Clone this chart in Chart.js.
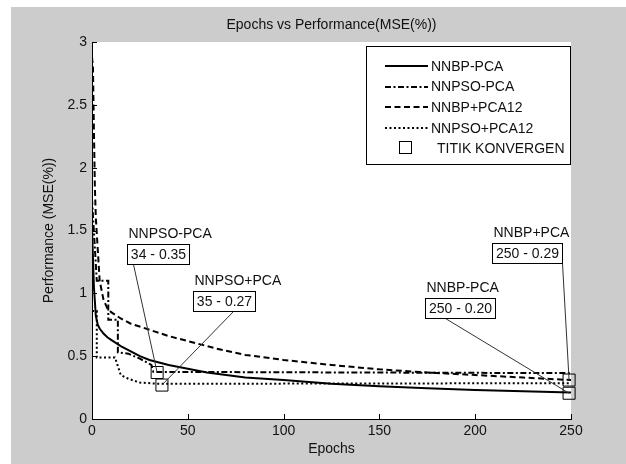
<!DOCTYPE html>
<html>
<head>
<meta charset="utf-8">
<title>Epochs vs Performance(MSE(%))</title>
<script src="https://cdn.jsdelivr.net/npm/chart.js@4.4.1/dist/chart.umd.min.js"></script>
<style>
  html, body { margin: 0; padding: 0; background: #fff; }
  canvas { display: block; }
</style>
</head>
<body>
<canvas id="chart" width="626" height="464"></canvas>
<script>
// DATA

// NNBP-PCA - solid
const nnbpPcaEpochs = [0, 1, 2, 3, 4, 6, 8, 10, 15, 20, 25, 30, 40, 50, 60, 70, 80, 100, 125, 150, 175, 200, 225, 250];
const nnbpPcaMse = [1.52, 1.05, 0.82, 0.75, 0.72, 0.68, 0.65, 0.63, 0.58, 0.54, 0.5, 0.47, 0.43, 0.4, 0.37, 0.35, 0.33, 0.31, 0.28, 0.26, 0.245, 0.23, 0.22, 0.21];

// NNPSO-PCA - dash dot (steps)
const nnpsoPcaEpochs = [0, 2.5, 8.5, 8.5, 13.5, 13.5, 19, 25, 31, 32, 250];
const nnpsoPcaMse = [1.75, 1.1, 1.1, 0.79, 0.79, 0.53, 0.52, 0.48, 0.43, 0.375, 0.365];

// NNBP+PCA12 - dashed
const nnbpPca12Epochs = [0, 0.5, 1, 1.5, 2, 3, 4, 6, 8, 10, 15, 20, 30, 40, 50, 65, 80, 100, 125, 150, 175, 200, 225, 250];
const nnbpPca12Mse = [2.88, 2.8, 2.3, 1.85, 1.6, 1.35, 1.1, 0.95, 0.88, 0.85, 0.8, 0.76, 0.71, 0.66, 0.62, 0.56, 0.51, 0.47, 0.43, 0.395, 0.37, 0.35, 0.33, 0.31];

// NNPSO+PCA12 - dotted (steps)
const nnpsoPca12Epochs = [0, 2.5, 2.5, 12, 15, 19, 25, 35, 250];
const nnpsoPca12Mse = [0.86, 0.86, 0.49, 0.49, 0.35, 0.32, 0.29, 0.28, 0.285];

// titik konvergen
const konvergenEpochs = [34, 36.5, 249, 249];
const konvergenMse = [0.37, 0.27, 0.205, 0.31];

const xTicks = [0, 50, 100, 150, 200, 250];
const yTicks = [0, 0.5, 1, 1.5, 2, 2.5, 3];

// labels near the convergence points
const annotTitles = ['NNPSO-PCA', 'NNPSO+PCA', 'NNBP-PCA', 'NNBP+PCA'];
const annotTexts = ['34 - 0.35', '35 - 0.27', '250 - 0.20', '250 - 0.29'];

// box placement for each label (axis units) + where the leader leaves the box
const annotLayout = [
  { epoch: 18.1, mse: 1.39, leaderDx: 6 },
  { epoch: 52.9, mse: 1.018, leaderDx: 40 },
  { epoch: 173.8, mse: 0.96, leaderDx: 20 },
  { epoch: 208.9, mse: 1.4, leaderDx: 70 }
];

const FONT = 'Liberation Sans, Arial, Helvetica, sans-serif';
const FONT_SIZE = 14;
const toPoints = (xs, ys) => xs.map((x, i) => ({ x, y: ys[i] }));

// PLUGINS

// matlab-like figure background
const backgroundPlugin = {
  id: 'figBackground',
  beforeDraw: (chart) => {
    const { ctx, chartArea, width, height } = chart;
    ctx.save();
    ctx.fillStyle = '#ffffff';
    ctx.fillRect(0, 0, width, height);
    ctx.fillStyle = '#cccccc';
    ctx.fillRect(11, 7, width - 11, height - 7);
    ctx.fillStyle = '#ffffff';
    ctx.fillRect(chartArea.left, chartArea.top, chartArea.right - chartArea.left, chartArea.bottom - chartArea.top);
    ctx.restore();
  }
};

// inward tick marks + title
const axesPlugin = {
  id: 'matlabAxes',
  afterDraw: (chart) => {
    const { ctx, chartArea, scales } = chart;
    const { x, y } = scales;
    ctx.save();
    ctx.strokeStyle = '#000';
    ctx.lineWidth = 1;
    ctx.beginPath();
    xTicks.forEach((t) => {
      const px = Math.round(x.getPixelForValue(t)) + 0.5;
      ctx.moveTo(px, chartArea.bottom);
      ctx.lineTo(px, chartArea.bottom - 5);
    });
    yTicks.forEach((t) => {
      const py = Math.round(y.getPixelForValue(t)) + 0.5;
      ctx.moveTo(chartArea.left, py);
      ctx.lineTo(chartArea.left + 5, py);
    });
    ctx.stroke();

    ctx.fillStyle = '#111';
    ctx.font = FONT_SIZE + 'px ' + FONT;
    ctx.textAlign = 'center';
    ctx.textBaseline = 'middle';
    ctx.fillText('Epochs vs Performance(MSE(%))', (chartArea.left + chartArea.right) / 2, 25);
    ctx.restore();
  }
};

// leader lines and text boxes
const annotPlugin = {
  id: 'konvergenLabels',
  afterDraw: (chart) => {
    const { ctx, scales } = chart;
    const { x, y } = scales;
    ctx.save();
    ctx.font = FONT_SIZE + 'px ' + FONT;
    annotLayout.forEach((item, i) => {
      const left = Math.round(x.getPixelForValue(item.epoch)) + 0.5;
      const top = Math.round(y.getPixelForValue(item.mse)) + 0.5;
      const w = Math.round(ctx.measureText(annotTexts[i]).width + 7);
      const h = 20;

      // leader
      ctx.strokeStyle = '#333';
      ctx.lineWidth = 1;
      ctx.beginPath();
      ctx.moveTo(left + item.leaderDx, top + h);
      ctx.lineTo(x.getPixelForValue(konvergenEpochs[i]), y.getPixelForValue(konvergenMse[i]));
      ctx.stroke();

      // box
      ctx.fillStyle = '#fff';
      ctx.fillRect(left, top, w, h);
      ctx.strokeStyle = '#000';
      ctx.strokeRect(left, top, w, h);

      ctx.fillStyle = '#111';
      ctx.textAlign = 'center';
      ctx.textBaseline = 'middle';
      ctx.fillText(annotTexts[i], left + w / 2, top + h / 2 + 1);

      ctx.textAlign = 'left';
      ctx.fillText(annotTitles[i], left + 1, top - 10);
    });
    ctx.restore();
  }
};

// legend box inside the axes
const legendPlugin = {
  id: 'boxLegend',
  afterDraw: (chart) => {
    const { ctx } = chart;
    const datasets = chart.data.datasets;
    ctx.save();
    ctx.fillStyle = '#fff';
    ctx.fillRect(366.5, 46.5, 204, 118);
    ctx.strokeStyle = '#000';
    ctx.lineWidth = 1;
    ctx.strokeRect(366.5, 46.5, 204, 118);

    ctx.font = FONT_SIZE + 'px ' + FONT;
    ctx.textBaseline = 'middle';
    ctx.textAlign = 'left';
    datasets.forEach((ds, i) => {
      const rowY = 66 + i * 20.6;
      if (ds.showLine === false) {
        ctx.setLineDash([]);
        ctx.lineWidth = 1;
        ctx.strokeStyle = '#000';
        ctx.strokeRect(399.5, Math.round(rowY) - 6.5, 12, 12);
        ctx.fillStyle = '#111';
        ctx.fillText(ds.label, 437, rowY + 1);
      } else {
        ctx.setLineDash(ds.borderDash || []);
        ctx.lineWidth = ds.borderWidth;
        ctx.strokeStyle = ds.borderColor;
        ctx.beginPath();
        ctx.moveTo(385, Math.round(rowY));
        ctx.lineTo(428, Math.round(rowY));
        ctx.stroke();
        ctx.fillStyle = '#111';
        ctx.fillText(ds.label, 431, rowY + 1);
      }
    });
    ctx.restore();
  }
};

// CHART

const lineDataset = (label, xs, ys, dash) => ({
  label,
  data: toPoints(xs, ys),
  borderColor: '#000',
  borderWidth: 2,
  borderDash: dash,
  pointRadius: 0,
  tension: 0,
  fill: false
});

const datasets = [
  lineDataset('NNBP-PCA', nnbpPcaEpochs, nnbpPcaMse, []),
  lineDataset('NNPSO-PCA', nnpsoPcaEpochs, nnpsoPcaMse, [6, 2.5, 2, 2.5]),
  lineDataset('NNBP+PCA12', nnbpPca12Epochs, nnbpPca12Mse, [6, 3.5]),
  lineDataset('NNPSO+PCA12', nnpsoPca12Epochs, nnpsoPca12Mse, [2, 2.5]),
  {
    type: 'scatter',
    label: 'TITIK KONVERGEN',
    data: toPoints(konvergenEpochs, konvergenMse),
    showLine: false,
    pointStyle: 'rect',
    pointRadius: 8.5,
    pointBorderWidth: 1,
    pointBorderColor: '#000',
    pointBackgroundColor: 'rgba(0,0,0,0)',
    clip: false
  }
];

const tickFont = { family: FONT, size: FONT_SIZE };

new Chart(document.getElementById('chart'), {
  type: 'line',
  data: { datasets },
  plugins: [backgroundPlugin, axesPlugin, annotPlugin, legendPlugin],
  options: {
    responsive: false,
    animation: false,
    devicePixelRatio: 1,
    layout: { padding: { top: 42, right: 55, left: 11, bottom: 0 } },
    plugins: {
      legend: { display: false },
      tooltip: { enabled: false },
      title: { display: false }
    },
    scales: {
      x: {
        type: 'linear',
        min: 0,
        max: 250,
        afterBuildTicks: (scale) => { scale.ticks = xTicks.map((v) => ({ value: v })); },
        afterFit: (scale) => { scale.height = 45; },
        ticks: { color: '#111', font: tickFont, padding: 4, maxRotation: 0, autoSkip: false, callback: (v) => String(v) },
        grid: { display: false, drawTicks: false },
        border: { display: true, color: '#000', width: 1 },
        title: { display: true, text: 'Epochs', color: '#111', font: tickFont, padding: { top: 0, bottom: 6 } }
      },
      y: {
        type: 'linear',
        min: 0,
        max: 3,
        afterBuildTicks: (scale) => { scale.ticks = yTicks.map((v) => ({ value: v })); },
        afterFit: (scale) => { scale.width = 81; },
        ticks: { color: '#111', font: tickFont, padding: 5, autoSkip: false, callback: (v) => String(v) },
        grid: { display: false, drawTicks: false },
        border: { display: true, color: '#000', width: 1 },
        title: { display: true, text: 'Performance (MSE(%))', color: '#111', font: tickFont, padding: { top: 30, bottom: 0 } }
      }
    }
  }
});
</script>
</body>
</html>
